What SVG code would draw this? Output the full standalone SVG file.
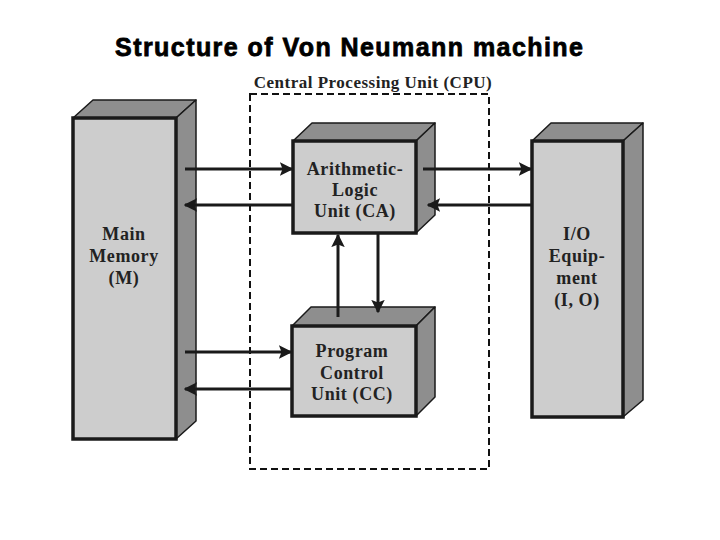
<svg xmlns="http://www.w3.org/2000/svg" width="720" height="540" viewBox="0 0 720 540">
<defs>
<style>
.front{fill:#cdcdcd;stroke:#1a1a1a;stroke-width:3.5}
.face{fill:#8e8e8e;stroke:#1a1a1a;stroke-width:1.5;stroke-linejoin:round}
.lbl{font-family:"Liberation Serif","Times New Roman",serif;font-weight:bold;font-size:18px;letter-spacing:0.6px;fill:#222;text-anchor:middle}
.conn{stroke:#1a1a1a;stroke-width:3;fill:none}
</style>
<marker id="ah" viewBox="0 0 10 10" refX="9" refY="5" markerWidth="4.5" markerHeight="4.5" orient="auto" markerUnits="strokeWidth">
<path d="M0,0 L10,5 L0,10 L2,5 z" fill="#1a1a1a"/>
</marker>
</defs>
<rect width="720" height="540" fill="#ffffff"/>
<text x="115" y="56" font-family="Liberation Sans,Arial,sans-serif" font-weight="bold" font-size="25" fill="#000" stroke="#000" stroke-width="0.8" textLength="468" lengthAdjust="spacing">Structure of Von Neumann machine</text>

<g id="cpu">
<rect x="250" y="94" width="239" height="375" fill="none" stroke="#111" stroke-width="2" stroke-dasharray="7,4"/>
<text x="373" y="88" font-family="Liberation Serif,serif" font-weight="bold" font-size="17" letter-spacing="0.5" fill="#222" text-anchor="middle">Central Processing Unit (CPU)</text>
</g>

<g id="memory">
<polygon class="face" points="73,118 93,100 196,100 176,118"/>
<polygon class="face" points="176,118 196,100 196,421 176,439"/>
<rect class="front" x="73" y="118" width="103" height="321"/>
<text class="lbl" x="124" y="240">Main</text>
<text class="lbl" x="124" y="262">Memory</text>
<text class="lbl" x="124" y="284">(M)</text>
</g>

<g id="alu">
<polygon class="face" points="293,141 312,123 435,123 416,141"/>
<polygon class="face" points="416,141 435,123 435,215 416,233"/>
<rect class="front" x="293" y="141" width="123" height="92"/>
<text class="lbl" x="355" y="175">Arithmetic-</text>
<text class="lbl" x="355" y="196">Logic</text>
<text class="lbl" x="355" y="217">Unit (CA)</text>
</g>

<g id="pcu">
<polygon class="face" points="292,326 311,307 435,307 416,326"/>
<polygon class="face" points="416,326 435,307 435,397 416,416"/>
<rect class="front" x="292" y="326" width="124" height="90"/>
<text class="lbl" x="352" y="357">Program</text>
<text class="lbl" x="352" y="379">Control</text>
<text class="lbl" x="352" y="400">Unit (CC)</text>
</g>

<g id="io">
<polygon class="face" points="532,141 551,123 643,123 623,141"/>
<polygon class="face" points="623,141 643,123 643,400 623,417"/>
<rect class="front" x="532" y="141" width="91" height="276"/>
<text class="lbl" x="577" y="240">I/O</text>
<text class="lbl" x="577" y="262">Equip-</text>
<text class="lbl" x="577" y="284">ment</text>
<text class="lbl" x="577" y="306">(I, O)</text>
</g>

<g id="connectors">
<line class="conn" x1="185" y1="169" x2="292" y2="169" marker-end="url(#ah)"/>
<line class="conn" x1="292" y1="205" x2="185" y2="205" marker-end="url(#ah)"/>
<line class="conn" x1="423" y1="169" x2="531" y2="169" marker-end="url(#ah)"/>
<line class="conn" x1="532" y1="205" x2="428" y2="205" marker-end="url(#ah)"/>
<line class="conn" x1="185" y1="352" x2="291" y2="352" marker-end="url(#ah)"/>
<line class="conn" x1="292" y1="389" x2="185" y2="389" marker-end="url(#ah)"/>
<line class="conn" x1="338" y1="317" x2="338" y2="235" marker-end="url(#ah)"/>
<line class="conn" x1="378" y1="233" x2="378" y2="312" marker-end="url(#ah)"/>
</g>
</svg>
